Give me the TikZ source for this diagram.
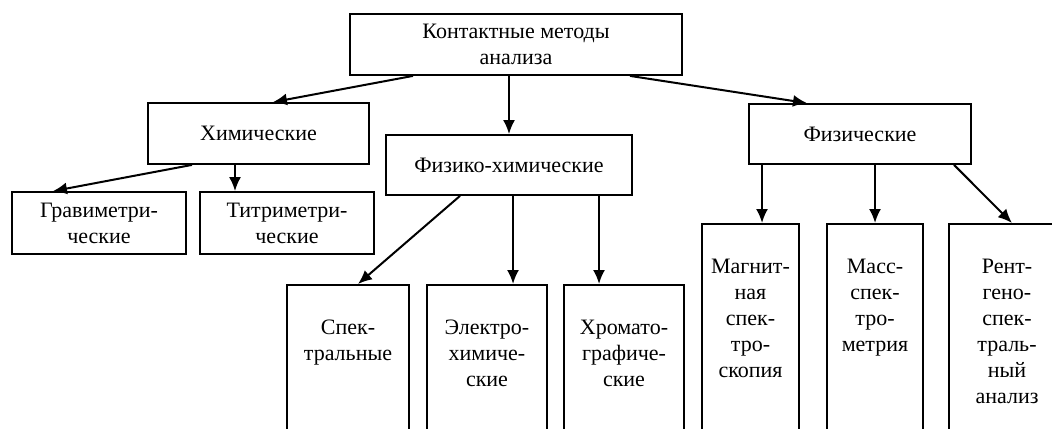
\documentclass[tikz,border=0pt]{standalone}
\usepackage{fontspec}
\setmainfont{Liberation Serif}
\usetikzlibrary{arrows.meta}

\begin{document}
\begin{tikzpicture}[x=0.5pt, y=-0.5pt, font=\fontsize{11}{13}\selectfont,
    box/.style={draw, line width=0.9pt, align=center, inner sep=2pt},
    tallbox/.style={box, anchor=north, text height=22pt, text depth=300pt, inner ysep=3pt},
    arr/.style={-{Latex[length=7pt,width=6pt]}, line width=1pt}]
  \useasboundingbox (0,0) rectangle (1052,428);
  % upper levels
  \node[box, minimum width=166pt, minimum height=30.5pt] (kontakt) at (516,44.5) {Контактные методы\\анализа};
  \node[box, minimum width=110.5pt, minimum height=30.5pt] (chim) at (258.5,133.5) {Химические};
  \node[box, minimum width=123pt, minimum height=30pt] (fizchim) at (509,165) {Физико-химические};
  \node[box, minimum width=111pt, minimum height=30pt] (fiz) at (860,134) {Физические};
  \node[box, minimum width=87pt, minimum height=31pt] (grav) at (99,223) {Гравиметри-\\ческие};
  \node[box, minimum width=87pt, minimum height=31pt] (titr) at (287,223) {Титриметри-\\ческие};
  % lower boxes, cut off by the page
  \node[tallbox, text width=57pt] (spektr) at (348,284) {Спек-\\тральные};
  \node[tallbox, text width=56pt] (elektro) at (487,284) {Электро-\\химиче-\\ские};
  \node[tallbox, text width=56pt] (chromato) at (624,284) {Хромато-\\графиче-\\ские};
  \node[tallbox, text width=44.5pt] (magn) at (750.5,223) {Магнит-\\ная\\спек-\\тро-\\скопия};
  \node[tallbox, text width=44pt] (mass) at (875,223) {Масс-\\спек-\\тро-\\метрия};
  \node[tallbox, text width=54pt] (rentg) at (1007,223) {Рент-\\гено-\\спек-\\траль-\\ный\\анализ};
  % arrows
  \draw[arr] ([xshift=-51.5pt]kontakt.south) -- ([xshift=7.25pt]chim.north);
  \draw[arr] (kontakt.south -| fizchim.north) -- (fizchim.north);
  \draw[arr] ([xshift=57pt]kontakt.south) -- ([xshift=-26.5pt]fiz.north);
  \draw[arr] ([xshift=-33.25pt]chim.south) -- ([xshift=-23pt]grav.north);
  \draw[arr] ([xshift=-26pt]titr.north |- chim.south) -- ([xshift=-26pt]titr.north);
  \draw[arr] ([xshift=-24.5pt]fizchim.south) -- ([xshift=5pt]spektr.north);
  \draw[arr] ([xshift=13pt]elektro.north |- fizchim.south) -- ([xshift=13pt]elektro.north);
  \draw[arr] ([xshift=-12.5pt]chromato.north |- fizchim.south) -- ([xshift=-12.5pt]chromato.north);
  \draw[arr] ([xshift=5.75pt]magn.north |- fiz.south) -- ([xshift=5.75pt]magn.north);
  \draw[arr] (fiz.south -| mass.north) -- (mass.north);
  \draw[arr] ([xshift=47pt]fiz.south) -- ([xshift=2.5pt]rentg.north);
\end{tikzpicture}
\end{document}
